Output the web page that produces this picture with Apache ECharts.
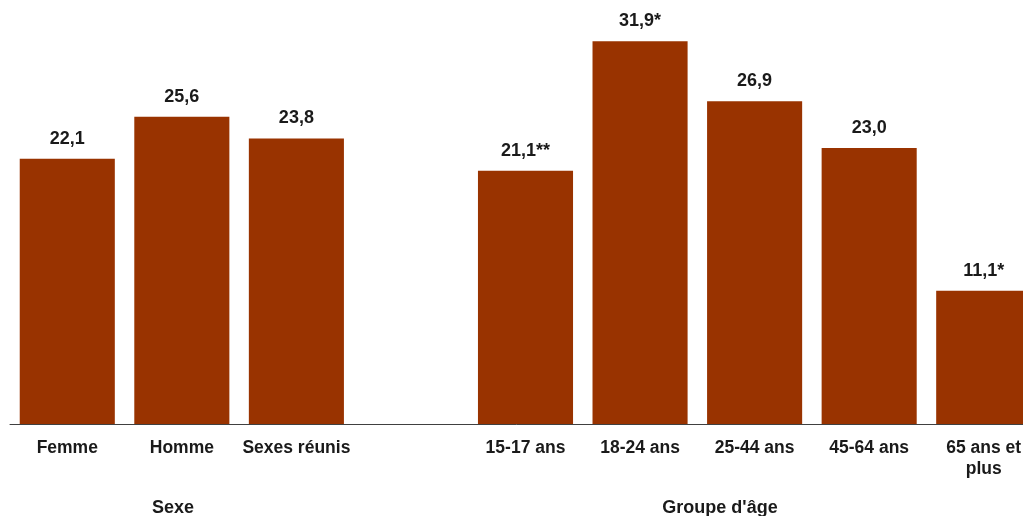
<!DOCTYPE html>
<html>
<head>
<meta charset="utf-8">
<script src="https://cdn.jsdelivr.net/npm/echarts@6/dist/echarts.min.js"></script>
<style>
html,body{margin:0;padding:0;background:#fff;}
#c{width:1023px;height:516px;}
</style>
</head>
<body>
<div id="c"></div>
<script>
const categories = ['Femme', 'Homme', 'Sexes réunis', '', '15-17 ans', '18-24 ans', '25-44 ans', '45-64 ans', '65 ans et\nplus'];
const values = [22.1, 25.6, 23.8, null, 21.1, 31.9, 26.9, 23.0, 11.1];
const notes = ['', '', '', '', '**', '*', '', '', '*'];
const groupLabels = ['Sexe', "Groupe d'âge"];

const chart = echarts.init(document.getElementById('c'), null, {renderer: 'canvas'});
const font = 'Arial, "Liberation Sans", sans-serif';
chart.setOption({
  animation: false,
  backgroundColor: '#ffffff',
  grid: {left: 10, top: 4, width: 1031, height: 420, containLabel: false, outerBoundsMode: 'none'},
  xAxis: {
    type: 'category',
    data: categories,
    axisLine: {show: true, lineStyle: {color: '#404040', width: 1}},
    axisTick: {show: false},
    axisLabel: {
      interval: 0, margin: 14, color: '#1a1a1a', fontFamily: font,
      fontWeight: 'bold', fontSize: 17.5, lineHeight: 21, verticalAlign: 'top'
    }
  },
  yAxis: {
    type: 'value', min: 0, max: 35,
    show: false, splitLine: {show: false}
  },
  series: [{
    type: 'bar',
    data: values,
    barCategoryGap: '17%',
    itemStyle: {color: '#993300'},
    label: {
      show: true, position: 'top', distance: 11,
      color: '#1a1a1a', fontFamily: font, fontWeight: 'bold', fontSize: 18,
      formatter: p => p.value == null ? '' : p.value.toFixed(1).replace('.', ',') + notes[p.dataIndex]
    }
  }],
  graphic: [
    {type: 'text', x: 173, y: 499, style: {text: groupLabels[0], fill: '#1a1a1a', font: 'bold 18px ' + font, textAlign: 'center', textVerticalAlign: 'top'}},
    {type: 'text', x: 720, y: 499, style: {text: groupLabels[1], fill: '#1a1a1a', font: 'bold 18px ' + font, textAlign: 'center', textVerticalAlign: 'top'}}
  ]
});
</script>
</body>
</html>
